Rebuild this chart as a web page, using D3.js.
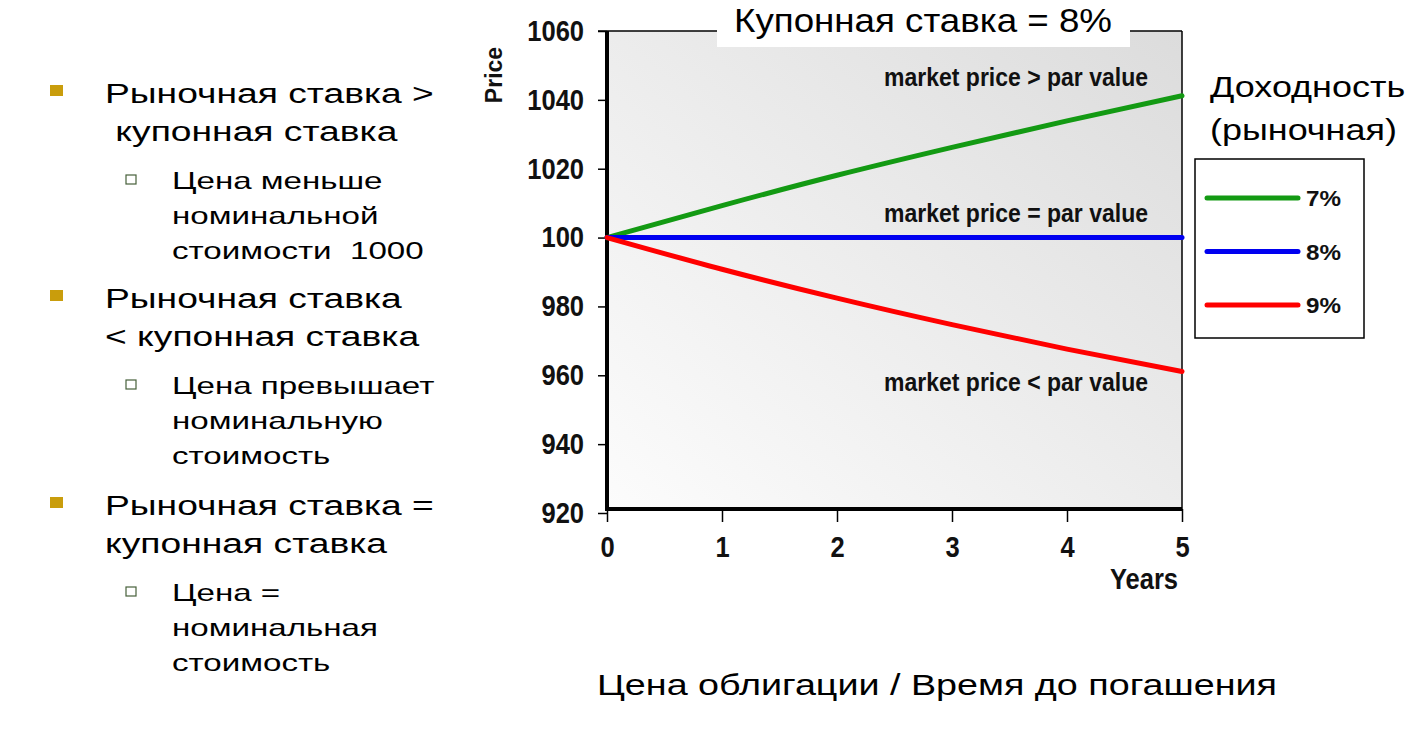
<!DOCTYPE html>
<html>
<head>
    <meta charset="utf-8">
    <title>Цена облигации / Время до погашения</title>
    <script src="https://d3js.org/d3.v7.min.js"></script>
    <style>
        body, html {
            margin: 0;
            background: #fff;
            overflow: hidden;
        }
        text { white-space: pre; }
    </style>
</head>
<body>
<div id="chart"></div>
<script>
    // data
    const years = [0, 1, 2, 3, 4, 5];
    const yieldLabels = ["7%", "8%", "9%"];
    const price7 = [1000, 1009.3, 1018.1, 1026.2, 1033.9, 1041.2];
    const price8 = [1000, 1000, 1000, 1000, 1000, 1000];
    const price9 = [1000, 990.8, 982.4, 974.7, 967.6, 961.1];
    const yTicks = [920, 940, 960, 980, 1000, 1020, 1040, 1060];
    const yTickLabels = ["920", "940", "960", "980", "100", "1020", "1040", "1060"]; // "100" as printed
    const notes = ["market price > par value", "market price = par value", "market price < par value"];
    const noteLevels = [1044, 1004.5, 955.5];
    const colors = ["#139a13", "#0000f0", "#ff0000"];

    const bullets = [
        {lines: ["Рыночная ставка >", " купонная ставка"], sub: ["Цена меньше", "номинальной", "стоимости  1000"]},
        {lines: ["Рыночная ставка", "< купонная ставка"], sub: ["Цена превышает", "номинальную", "стоимость"]},
        {lines: ["Рыночная ставка =", "купонная ставка"], sub: ["Цена =", "номинальная", "стоимость"]}
    ];

    const width = 1413, height = 738;
    const svg = d3.select("#chart").append("svg")
        .attr("width", width)
        .attr("height", height)
        .style("font-family", "'Liberation Sans', Arial, sans-serif");

    // slide text is stretched sideways, chart labels squeezed: texts get a horizontal scale
    function txt(g, x, y, str, size, sx, opts = {}) {
        return g.append("text")
            .attr("transform", `translate(${x},${y}) scale(${sx},1)`)
            .attr("font-size", size)
            .attr("font-weight", opts.bold ? "bold" : "normal")
            .attr("text-anchor", opts.anchor || "start")
            .attr("fill", "#000")
            .text(str);
    }

    // ---- left bullet list
    const left = svg.append("g");
    const blockTop = [103, 308, 515];
    bullets.forEach((b, i) => {
        const y0 = blockTop[i];
        left.append("rect").attr("x", 50).attr("y", y0 - 18).attr("width", 13).attr("height", 11)
            .attr("fill", "#c99d0c");
        b.lines.forEach((l, j) => txt(left, 105, y0 + j * 38, l, 28, 1.33));
        const s0 = y0 + 86;
        left.append("rect").attr("x", 126).attr("y", s0 - 14).attr("width", 10).attr("height", 9)
            .attr("fill", "#fff").attr("stroke", "#46603a").attr("stroke-width", 1.2);
        b.sub.forEach((l, j) => txt(left, 172, s0 + j * 35, l, 24, 1.38));
    });

    // ---- chart
    const x = d3.scaleLinear().domain([0, 5]).range([607, 1182]);
    const y = d3.scaleLinear().domain([920, 1060]).range([513, 31]);
    const axisY = y(920) - 4;
    const tickSx = 0.88;

    const defs = svg.append("defs");
    const grad = defs.append("linearGradient").attr("id", "bg")
        .attr("x1", "0%").attr("y1", "100%").attr("x2", "100%").attr("y2", "0%");
    grad.append("stop").attr("offset", "0%").attr("stop-color", "#fcfcfc");
    grad.append("stop").attr("offset", "100%").attr("stop-color", "#dcdcdc");

    const chart = svg.append("g");
    chart.append("rect")
        .attr("x", x(0)).attr("y", y(1060))
        .attr("width", x(5) - x(0)).attr("height", axisY - y(1060))
        .attr("fill", "url(#bg)");

    // frame: thin top and right
    chart.append("line").attr("x1", x(0) - 9).attr("x2", x(5)).attr("y1", y(1060)).attr("y2", y(1060))
        .attr("stroke", "#000").attr("stroke-width", 1.5);
    chart.append("line").attr("x1", x(5)).attr("x2", x(5)).attr("y1", y(1060)).attr("y2", axisY)
        .attr("stroke", "#000").attr("stroke-width", 1.5);

    // y axis
    const yAxis = chart.append("g")
        .attr("transform", `translate(${x(0)},0)`)
        .call(d3.axisLeft(y).tickValues(yTicks).tickSize(9).tickPadding(14)
            .tickFormat((d, i) => yTickLabels[i]));
    yAxis.select(".domain").remove();
    yAxis.selectAll(".tick line").attr("stroke", "#000").attr("stroke-width", 1.5);
    yAxis.selectAll(".tick text")
        .attr("font-size", 29).attr("font-weight", "bold").attr("fill", "#111")
        .attr("x", -23 / tickSx)
        .attr("transform", `scale(${tickSx},1)`);

    // x axis
    const xAxis = chart.append("g")
        .attr("transform", `translate(0,${axisY})`)
        .call(d3.axisBottom(x).tickValues(years).tickSize(13).tickPadding(14).tickFormat(d3.format("d")));
    xAxis.select(".domain").remove();
    xAxis.selectAll(".tick line").attr("stroke", "#000").attr("stroke-width", 1.5);
    xAxis.selectAll(".tick text")
        .attr("font-size", 29).attr("font-weight", "bold").attr("fill", "#111")
        .attr("transform", `scale(${tickSx},1)`);

    // thick axis lines
    chart.append("line").attr("x1", x(0)).attr("x2", x(0)).attr("y1", y(1060)).attr("y2", axisY + 2)
        .attr("stroke", "#000").attr("stroke-width", 4);
    chart.append("line").attr("x1", x(0)).attr("x2", x(5)).attr("y1", axisY).attr("y2", axisY)
        .attr("stroke", "#000").attr("stroke-width", 4);

    // price lines
    const line = d3.line().x((d, i) => x(years[i])).y(d => y(d)).curve(d3.curveMonotoneX);
    [price7, price8, price9].forEach((s, i) => {
        chart.append("path").datum(s)
            .attr("d", line)
            .attr("fill", "none")
            .attr("stroke", colors[i])
            .attr("stroke-width", 5)
            .attr("stroke-linecap", "round");
    });

    // notes
    notes.forEach((n, i) => {
        txt(chart, 1148, y(noteLevels[i]), n, 25, 0.92, {bold: true, anchor: "end"}).attr("fill", "#111");
    });

    // axis titles
    txt(chart, 1178, 589, "Years", 29, tickSx, {bold: true, anchor: "end"}).attr("fill", "#111");
    chart.append("text")
        .attr("transform", "translate(502,75) rotate(-90)")
        .attr("text-anchor", "middle")
        .attr("font-size", 23).attr("font-weight", "bold").attr("fill", "#111")
        .text("Price");

    // title box over the top frame line
    chart.append("rect").attr("x", 717).attr("y", 0).attr("width", 413).attr("height", 47).attr("fill", "#fff");
    txt(chart, 923, 32, "Купонная ставка = 8%", 34, 1.08, {anchor: "middle"});

    // ---- legend
    const leg = svg.append("g");
    txt(leg, 1210, 97, "Доходность", 29, 1.24);
    txt(leg, 1210, 140, "(рыночная)", 29, 1.24);
    leg.append("rect").attr("x", 1195).attr("y", 159).attr("width", 169).attr("height", 179)
        .attr("fill", "none").attr("stroke", "#000").attr("stroke-width", 1.5);
    yieldLabels.forEach((l, i) => {
        const ly = 198 + i * 53.5;
        leg.append("line").attr("x1", 1207).attr("x2", 1298).attr("y1", ly).attr("y2", ly)
            .attr("stroke", colors[i]).attr("stroke-width", 5).attr("stroke-linecap", "round");
        txt(leg, 1306, ly + 8, l, 22, 1.1, {bold: true}).attr("fill", "#111");
    });

    // ---- footer caption
    txt(svg, 937, 695, "Цена облигации / Время до погашения", 29, 1.3, {anchor: "middle"});
</script>
</body>
</html>
